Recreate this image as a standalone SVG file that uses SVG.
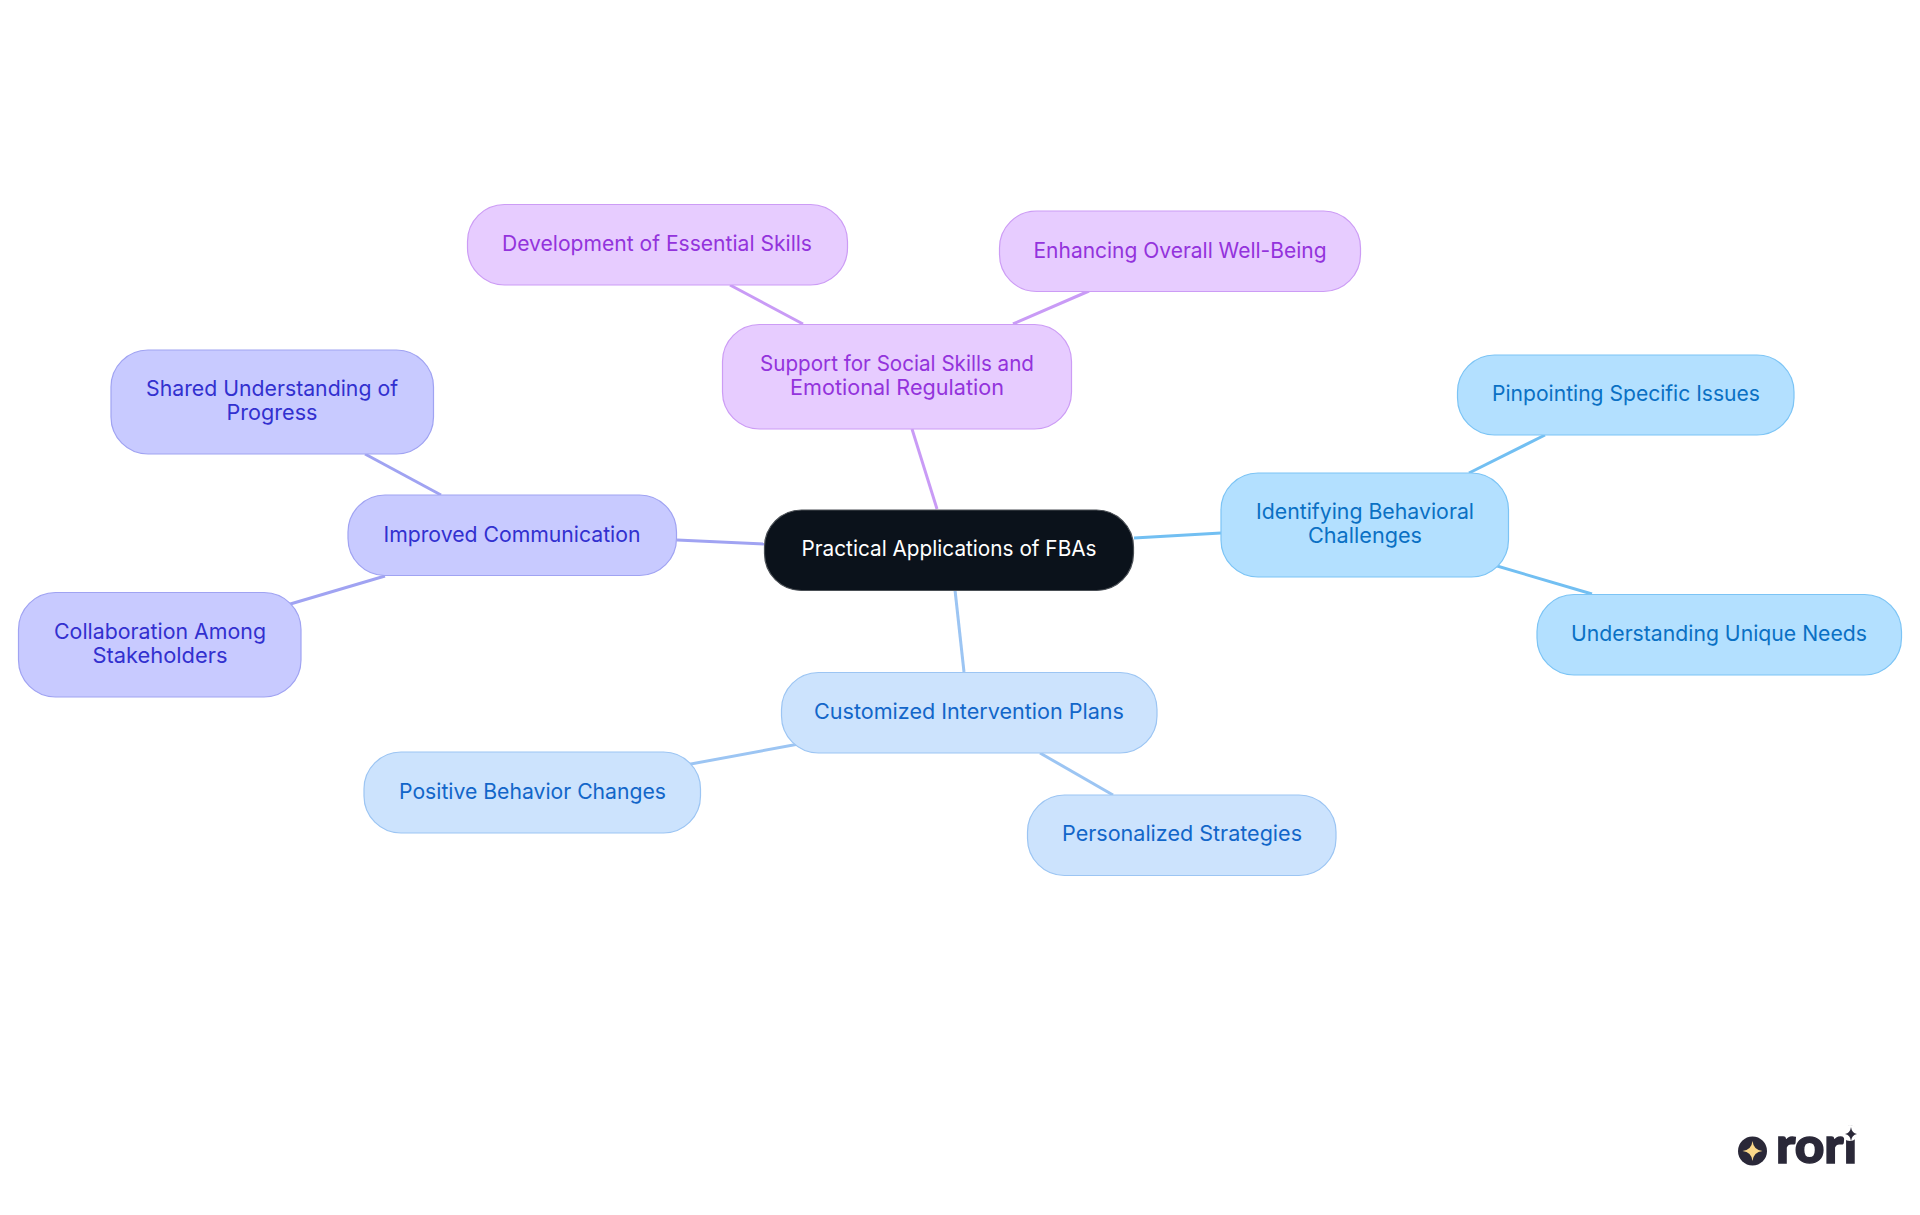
<svg xmlns="http://www.w3.org/2000/svg" width="1920" height="1215" viewBox="0 0 1920 1215">
<style>
text{font-family:"Inter","Noto Sans","Liberation Sans",sans-serif;font-size:21.5px;font-weight:370;text-anchor:middle}
rect{stroke-width:1.2}
.c path{fill:none;stroke-width:3}
.root rect{fill:#0b121b;stroke:#4a4f55}.root text{fill:#fff}
.sky rect{fill:#b3e0ff;stroke:#7cc4f5}.sky text{fill:#0a70c4}
.blu rect{fill:#cce3fd;stroke:#9cc5f3}.blu text{fill:#1266c9}
.ind rect{fill:#c8caff;stroke:#a0a3f2}.ind text{fill:#3230cf}
.pur rect{fill:#e7ccff;stroke:#cc9cf5}.pur text{fill:#9333dc}
.lsky{stroke:#72bff2}.lblu{stroke:#9cc5f3}.lind{stroke:#a0a3f2}.lpur{stroke:#c99bf6}
</style>
<g id="connectors" class="c">
<path class="lpur" d="M912 429L937 509"/>
<path class="lsky" d="M1134 538L1221 533"/>
<path class="lblu" d="M955 590L964 672"/>
<path class="lind" d="M677 540L764 544"/>
<path class="lind" d="M365 454L441 495"/>
<path class="lind" d="M385 576L270 610"/>
<path class="lpur" d="M730 285L803 324"/>
<path class="lpur" d="M1089 291L1013 324"/>
<path class="lsky" d="M1545 435L1469 473"/>
<path class="lsky" d="M1480 561L1592 594"/>
<path class="lblu" d="M815 741L680 766"/>
<path class="lblu" d="M1040 753L1113 795"/>
</g>
<g id="root" class="root"><rect x="764.500" y="510" width="369" height="80.500" rx="37"/><text x="949" y="556" textLength="295" lengthAdjust="spacingAndGlyphs">Practical Applications of FBAs</text></g>
<g id="identifying" class="sky"><rect x="1221" y="473" width="287.500" height="104" rx="37"/><text x="1365" y="519" textLength="218" lengthAdjust="spacingAndGlyphs">Identifying Behavioral</text><text x="1365" y="543" textLength="114" lengthAdjust="spacingAndGlyphs">Challenges</text></g>
<g id="pinpointing" class="sky"><rect x="1457.500" y="355" width="336.500" height="80" rx="37"/><text x="1626" y="401" textLength="268" lengthAdjust="spacingAndGlyphs">Pinpointing Specific Issues</text></g>
<g id="understanding" class="sky"><rect x="1537" y="594.500" width="364.500" height="80.500" rx="37"/><text x="1719" y="641" textLength="296" lengthAdjust="spacingAndGlyphs">Understanding Unique Needs</text></g>
<g id="customized" class="blu"><rect x="781.500" y="672.500" width="375.500" height="80.500" rx="37"/><text x="969" y="719" textLength="310" lengthAdjust="spacingAndGlyphs">Customized Intervention Plans</text></g>
<g id="positive" class="blu"><rect x="364" y="752" width="336.500" height="81" rx="37"/><text x="532.500" y="799" textLength="267" lengthAdjust="spacingAndGlyphs">Positive Behavior Changes</text></g>
<g id="personalized" class="blu"><rect x="1027.500" y="795" width="308.500" height="80.500" rx="37"/><text x="1182" y="841" textLength="240" lengthAdjust="spacingAndGlyphs">Personalized Strategies</text></g>
<g id="improved" class="ind"><rect x="348" y="495" width="328.500" height="80.500" rx="37"/><text x="512" y="542" textLength="257" lengthAdjust="spacingAndGlyphs">Improved Communication</text></g>
<g id="shared" class="ind"><rect x="111" y="350" width="322.500" height="104" rx="37"/><text x="272" y="396" textLength="252" lengthAdjust="spacingAndGlyphs">Shared Understanding of</text><text x="272" y="420" textLength="91" lengthAdjust="spacingAndGlyphs">Progress</text></g>
<g id="collaboration" class="ind"><rect x="18.500" y="592.500" width="282.500" height="104.500" rx="37"/><text x="160" y="639" textLength="212" lengthAdjust="spacingAndGlyphs">Collaboration Among</text><text x="160" y="663" textLength="135" lengthAdjust="spacingAndGlyphs">Stakeholders</text></g>
<g id="support" class="pur"><rect x="722.500" y="324.500" width="349" height="104.500" rx="37"/><text x="897" y="371" textLength="274" lengthAdjust="spacingAndGlyphs">Support for Social Skills and</text><text x="897" y="395" textLength="214" lengthAdjust="spacingAndGlyphs">Emotional Regulation</text></g>
<g id="development" class="pur"><rect x="467.500" y="204.500" width="380" height="80.500" rx="37"/><text x="657" y="251" textLength="310" lengthAdjust="spacingAndGlyphs">Development of Essential Skills</text></g>
<g id="enhancing" class="pur"><rect x="999.500" y="211" width="361" height="80.500" rx="37"/><text x="1180" y="258" textLength="293" lengthAdjust="spacingAndGlyphs">Enhancing Overall Well-Being</text></g>
<g id="logo">
<circle cx="1752.500" cy="1151" r="14.500" fill="#2a2838"/>
<path d="M1752.500 1141Q1753.500 1150 1762.500 1151Q1753.500 1152 1752.500 1161Q1751.500 1152 1742.500 1151Q1751.500 1150 1752.500 1141Z" fill="#fbd88a"/>
<text x="1816.500" y="1163" textLength="81" lengthAdjust="spacingAndGlyphs" style="font-family:'Lato','DejaVu Sans',sans-serif;font-weight:900;font-size:49px;fill:#2a2838;stroke:#2a2838;stroke-width:1.5">rori</text>
<circle cx="1850" cy="1133" r="8" fill="#fff"/>
<path d="M1851 1127Q1851.800 1133 1857 1134Q1851.800 1135 1851 1141Q1850.200 1135 1845 1134Q1850.200 1133 1851 1127Z" fill="#2a2838"/>
</g>
</svg>
